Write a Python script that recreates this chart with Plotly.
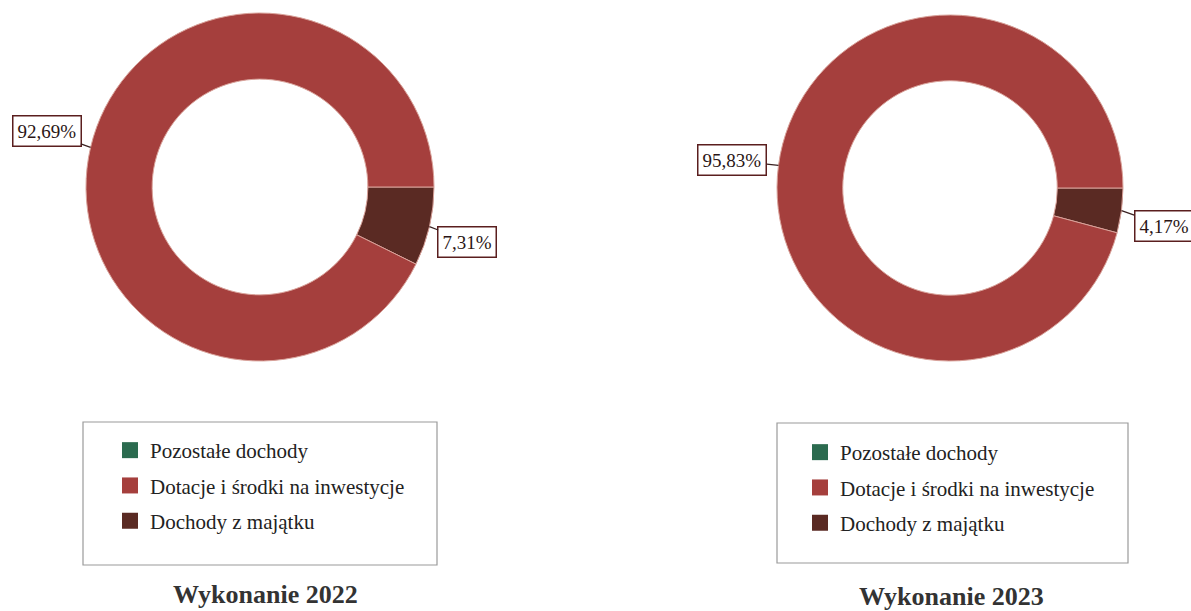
import math
import plotly.graph_objects as go

# ---- data ----
categories = ["Pozostałe dochody", "Dotacje i środki na inwestycje", "Dochody z majątku"]
values_2022 = [0.0, 92.69, 7.31]
values_2023 = [0.0, 95.83, 4.17]
titles = ["Wykonanie 2022", "Wykonanie 2023"]

colors = {
    "Pozostałe dochody": "#2B6B4F",
    "Dotacje i środki na inwestycje": "#A53F3D",
    "Dochody z majątku": "#5A2A23",
}
# pie drawing order: starts at 3 o'clock, clockwise
pie_order = ["Dochody z majątku", "Dotacje i środki na inwestycje", "Pozostałe dochody"]

W, H = 1191, 611
SERIF = "Liberation Serif, Times New Roman, serif"

# layout boxes (pixels)
pie_boxes = [(86, 13, 434, 361), (777, 15, 1123, 361)]
legend_frames = [(83, 422, 437, 565), (777, 423, 1128, 563)]
label_offsets = [
    {"Dotacje i środki na inwestycje": (-44, -16), "Dochody z majątku": (38, 15)},
    {"Dotacje i środki na inwestycje": (-46, -5), "Dochody z majątku": (42, 15)},
]
title_pos = [(265, 594), (951, 596)]
legend_pos = [(110, 430), (800, 432)]

fig = go.Figure()
annotations = []
shapes = []

for k, vals in enumerate([values_2022, values_2023]):
    vmap = dict(zip(categories, vals))
    labs = [c for c in pie_order if vmap[c] > 0]
    vs = [vmap[c] for c in labs]
    x0, y0, x1, y1 = pie_boxes[k]
    fig.add_trace(go.Pie(
        labels=labs, values=vs, hole=0.62, sort=False, direction="clockwise",
        rotation=90, textinfo="none", hoverinfo="label+percent",
        marker=dict(colors=[colors[c] for c in labs], line=dict(color="#D9A29A", width=1)),
        domain=dict(x=[x0 / W, x1 / W], y=[1 - y1 / H, 1 - y0 / H]),
        showlegend=False,
    ))
    # labels with leader lines, computed from data
    cx, cy = (x0 + x1) / 2, (y0 + y1) / 2
    r = min(x1 - x0, y1 - y0) / 2
    total = sum(vs)
    cum = 0.0
    for c, v in zip(labs, vs):
        mid = (cum + v / 2) / total * 2 * math.pi
        cum += v
        px, py = cx + r * math.cos(mid), cy + r * math.sin(mid)
        ax, ay = label_offsets[k][c]
        annotations.append(dict(
            x=px / W, y=1 - py / H, xref="paper", yref="paper",
            text=f"{v:.2f}".replace(".", ",") + "%",
            showarrow=True, arrowhead=0, arrowwidth=1.2, arrowcolor="#3a2020",
            ax=ax, ay=ay, standoff=0,
            font=dict(family=SERIF, size=19, color="#2a1515"),
            bgcolor="white", bordercolor="#5a1e1e", borderwidth=1.5, borderpad=4,
        ))
    # title
    tx, ty = title_pos[k]
    annotations.append(dict(
        x=tx / W, y=1 - ty / H, xref="paper", yref="paper", showarrow=False,
        xanchor="center", yanchor="middle",
        text=f"<b>{titles[k]}</b>", font=dict(family=SERIF, size=26, color="#333333"),
    ))
    # legend frame
    fx0, fy0, fx1, fy1 = legend_frames[k]
    shapes.append(dict(type="rect", xref="paper", yref="paper",
                       x0=fx0 / W, x1=fx1 / W, y0=1 - fy1 / H, y1=1 - fy0 / H,
                       line=dict(color="#9a9a9a", width=1.2)))
    # legend entries
    lname = "legend" if k == 0 else "legend2"
    for c in categories:
        fig.add_trace(go.Scatter(
            x=[None], y=[None], mode="markers", name=c,
            marker=dict(symbol="square", size=16, color=colors[c]),
            legend=lname, legendgroup=f"{k}-{c}", showlegend=True,
        ))

leg_common = dict(
    bgcolor="rgba(0,0,0,0)", borderwidth=0, traceorder="grouped", tracegroupgap=5,
    font=dict(family=SERIF, size=21, color="#222222"),
    xanchor="left", yanchor="top", xref="paper", yref="paper",
)
fig.update_layout(
    width=W, height=H, margin=dict(l=0, r=0, t=0, b=0),
    paper_bgcolor="white", plot_bgcolor="white",
    xaxis=dict(visible=False), yaxis=dict(visible=False),
    legend=dict(x=legend_pos[0][0] / W, y=1 - legend_pos[0][1] / H, **leg_common),
    legend2=dict(x=legend_pos[1][0] / W, y=1 - legend_pos[1][1] / H, **leg_common),
    annotations=annotations, shapes=shapes,
)

fig.write_html("out.html", config={"displayModeBar": False},
               post_script="document.body.style.margin='0px';")
